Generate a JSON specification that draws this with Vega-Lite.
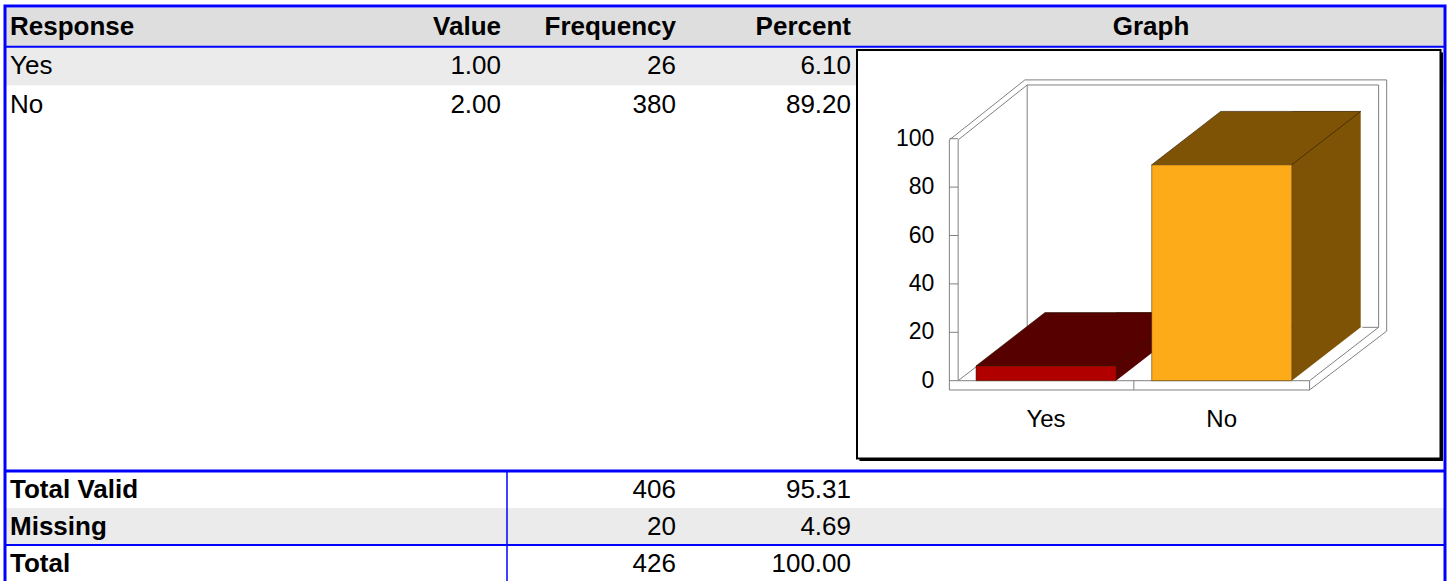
{
"$schema":"https://vega.github.io/schema/vega-lite/v6.json",
"width":1440,"height":580,"autosize":"none",
"padding":{"left":5,"top":5,"right":3,"bottom":0},
"background":"white",
"config":{"view":{"stroke":null},"font":"Liberation Sans","text":{"font":"Liberation Sans","color":"black"}},
"datasets":{
 "columns":[{"Column":"Response"},{"Column":"Value"},{"Column":"Frequency"},{"Column":"Percent"},{"Column":"Graph"}],
 "responses":[{"Response":"Yes","Value":1,"Frequency":26,"Percent":6.1},{"Response":"No","Value":2,"Frequency":380,"Percent":89.2}],
 "totals":[{"Response":"Total Valid","Frequency":406,"Percent":95.31},{"Response":"Missing","Frequency":20,"Percent":4.69},{"Response":"Total","Frequency":426,"Percent":100}],
 "ticks":[{"Tick":0},{"Tick":20},{"Tick":40},{"Tick":60},{"Tick":80},{"Tick":100}]
},
"layer":[
 {"layer":[
  {"layer":[
   {"data":{"values":[{}]},"mark":{"type":"rect","fill":"#dedede"},"encoding":{"y":{"datum":"header","scale":{"type":"band","domain":["header","Yes","No"],"range":[3,119],"paddingInner":0,"paddingOuter":0},"axis":null}}},
   {"data":{"values":[{}]},"mark":{"type":"rect","fill":"#ebebeb"},"encoding":{"y":{"datum":"Yes","scale":{"type":"band","domain":["header","Yes","No"],"range":[3,119],"paddingInner":0,"paddingOuter":0},"axis":null}}},
   {"data":{"values":[{}]},"mark":{"type":"rule","color":"#0000ff","strokeWidth":2},"encoding":{"y":{"datum":"Yes","bandPosition":0,"scale":{"type":"band","domain":["header","Yes","No"],"range":[3,119],"paddingInner":0,"paddingOuter":0},"axis":null}}},
   {"data":{"name":"columns"},"transform":[{"filter":"datum.Column !== 'Response' && datum.Column !== 'Graph'"}],
    "mark":{"type":"text","align":"right","baseline":"middle","dx":-6,"fontSize":26,"fontWeight":"bold"},
    "encoding":{"x":{"field":"Column","type":"nominal","bandPosition":1,"scale":{"type":"band","domain":["Response","Value","Frequency","Percent"],"range":[152,852],"paddingInner":0,"paddingOuter":0},"axis":null},
     "y":{"datum":"header","scale":{"type":"band","domain":["header","Yes","No"],"range":[3,119],"paddingInner":0,"paddingOuter":0},"axis":null},
     "text":{"field":"Column","type":"nominal"}}},
   {"data":{"name":"columns"},"transform":[{"filter":"datum.Column === 'Response'"}],
    "mark":{"type":"text","align":"left","baseline":"middle","dx":-147,"fontSize":26,"fontWeight":"bold"},
    "encoding":{"x":{"field":"Column","type":"nominal","bandPosition":0,"scale":{"type":"band","domain":["Response","Value","Frequency","Percent"],"range":[152,852],"paddingInner":0,"paddingOuter":0},"axis":null},
     "y":{"datum":"header","scale":{"type":"band","domain":["header","Yes","No"],"range":[3,119],"paddingInner":0,"paddingOuter":0},"axis":null},
     "text":{"field":"Column","type":"nominal"}}},
   {"data":{"name":"columns"},"transform":[{"filter":"datum.Column === 'Graph'"}],
    "mark":{"type":"text","align":"center","baseline":"middle","dx":294,"fontSize":26,"fontWeight":"bold"},
    "encoding":{"x":{"datum":"Percent","bandPosition":1,"scale":{"type":"band","domain":["Response","Value","Frequency","Percent"],"range":[152,852],"paddingInner":0,"paddingOuter":0},"axis":null},
     "y":{"datum":"header","scale":{"type":"band","domain":["header","Yes","No"],"range":[3,119],"paddingInner":0,"paddingOuter":0},"axis":null},
     "text":{"field":"Column","type":"nominal"}}},
   {"data":{"name":"responses"},
    "mark":{"type":"text","align":"left","baseline":"middle","dx":-147,"fontSize":26},
    "encoding":{"x":{"datum":"Response","bandPosition":0,"scale":{"type":"band","domain":["Response","Value","Frequency","Percent"],"range":[152,852],"paddingInner":0,"paddingOuter":0},"axis":null},
     "y":{"field":"Response","type":"nominal","scale":{"type":"band","domain":["header","Yes","No"],"range":[3,119],"paddingInner":0,"paddingOuter":0},"axis":null},
     "text":{"field":"Response","type":"nominal"}}},
   {"data":{"name":"responses"},
    "mark":{"type":"text","align":"right","baseline":"middle","dx":-6,"fontSize":26},
    "encoding":{"x":{"datum":"Value","bandPosition":1,"scale":{"type":"band","domain":["Response","Value","Frequency","Percent"],"range":[152,852],"paddingInner":0,"paddingOuter":0},"axis":null},
     "y":{"field":"Response","type":"nominal","scale":{"type":"band","domain":["header","Yes","No"],"range":[3,119],"paddingInner":0,"paddingOuter":0},"axis":null},
     "text":{"field":"Value","type":"quantitative","format":".2f"}}},
   {"data":{"name":"responses"},
    "mark":{"type":"text","align":"right","baseline":"middle","dx":-6,"fontSize":26},
    "encoding":{"x":{"datum":"Frequency","bandPosition":1,"scale":{"type":"band","domain":["Response","Value","Frequency","Percent"],"range":[152,852],"paddingInner":0,"paddingOuter":0},"axis":null},
     "y":{"field":"Response","type":"nominal","scale":{"type":"band","domain":["header","Yes","No"],"range":[3,119],"paddingInner":0,"paddingOuter":0},"axis":null},
     "text":{"field":"Frequency","type":"quantitative","format":"d"}}},
   {"data":{"name":"responses"},
    "mark":{"type":"text","align":"right","baseline":"middle","dx":-6,"fontSize":26},
    "encoding":{"x":{"datum":"Percent","bandPosition":1,"scale":{"type":"band","domain":["Response","Value","Frequency","Percent"],"range":[152,852],"paddingInner":0,"paddingOuter":0},"axis":null},
     "y":{"field":"Response","type":"nominal","scale":{"type":"band","domain":["header","Yes","No"],"range":[3,119],"paddingInner":0,"paddingOuter":0},"axis":null},
     "text":{"field":"Percent","type":"quantitative","format":".2f"}}}
  ]},
  {"layer":[
   {"data":{"values":[{}]},"mark":{"type":"rect","fill":"#ebebeb"},"encoding":{"y":{"datum":"Missing","scale":{"type":"band","domain":["Total Valid","Missing","Total"],"range":[466,577],"paddingInner":0,"paddingOuter":0},"axis":null}}},
   {"data":{"values":[{}]},"mark":{"type":"rule","color":"#0000ff","strokeWidth":3},"encoding":{"y":{"datum":"Total Valid","bandPosition":0,"scale":{"type":"band","domain":["Total Valid","Missing","Total"],"range":[466,577],"paddingInner":0,"paddingOuter":0},"axis":null}}},
   {"data":{"values":[{}]},"mark":{"type":"rule","color":"#0000ff","strokeWidth":2},"encoding":{"y":{"datum":"Total","bandPosition":0,"scale":{"type":"band","domain":["Total Valid","Missing","Total"],"range":[466,577],"paddingInner":0,"paddingOuter":0},"axis":null}}},
   {"data":{"values":[{}]},"mark":{"type":"rule","color":"#0000ff","strokeWidth":1.5},
    "encoding":{"x":{"datum":"Value","bandPosition":1,"scale":{"type":"band","domain":["Response","Value","Frequency","Percent"],"range":[152,852],"paddingInner":0,"paddingOuter":0},"axis":null},
     "y":{"datum":"Total Valid","bandPosition":0,"scale":{"type":"band","domain":["Total Valid","Missing","Total"],"range":[466,577],"paddingInner":0,"paddingOuter":0},"axis":null},
     "y2":{"value":"height"}}},
   {"data":{"name":"totals"},
    "mark":{"type":"text","align":"left","baseline":"middle","dx":-147,"fontSize":26,"fontWeight":"bold"},
    "encoding":{"x":{"datum":"Response","bandPosition":0,"scale":{"type":"band","domain":["Response","Value","Frequency","Percent"],"range":[152,852],"paddingInner":0,"paddingOuter":0},"axis":null},
     "y":{"field":"Response","type":"nominal","scale":{"type":"band","domain":["Total Valid","Missing","Total"],"range":[466,577],"paddingInner":0,"paddingOuter":0},"axis":null},
     "text":{"field":"Response","type":"nominal"}}},
   {"data":{"name":"totals"},
    "mark":{"type":"text","align":"right","baseline":"middle","dx":-6,"fontSize":26},
    "encoding":{"x":{"datum":"Frequency","bandPosition":1,"scale":{"type":"band","domain":["Response","Value","Frequency","Percent"],"range":[152,852],"paddingInner":0,"paddingOuter":0},"axis":null},
     "y":{"field":"Response","type":"nominal","scale":{"type":"band","domain":["Total Valid","Missing","Total"],"range":[466,577],"paddingInner":0,"paddingOuter":0},"axis":null},
     "text":{"field":"Frequency","type":"quantitative","format":"d"}}},
   {"data":{"name":"totals"},
    "mark":{"type":"text","align":"right","baseline":"middle","dx":-6,"fontSize":26},
    "encoding":{"x":{"datum":"Percent","bandPosition":1,"scale":{"type":"band","domain":["Response","Value","Frequency","Percent"],"range":[152,852],"paddingInner":0,"paddingOuter":0},"axis":null},
     "y":{"field":"Response","type":"nominal","scale":{"type":"band","domain":["Total Valid","Missing","Total"],"range":[466,577],"paddingInner":0,"paddingOuter":0},"axis":null},
     "text":{"field":"Percent","type":"quantitative","format":".2f"}}}
  ]},
  {"data":{"values":[{}]},"mark":{"type":"rect","fillOpacity":0,"stroke":"#0000ff","strokeWidth":3,"yOffset":-2},
   "encoding":{"y":{"datum":"header","bandPosition":0,"scale":{"type":"band","domain":["header","Yes","No"],"range":[3,119],"paddingInner":0,"paddingOuter":0},"axis":null},"y2":{"value":"height"}}}
 ],"resolve":{"scale":{"y":"independent"}}},
 {"layer":[
  {"data":{"values":[{}]},"mark":{"type":"rect","fill":"black","xOffset":2.5,"x2Offset":2.5,"yOffset":2.5,"y2Offset":2.5},
   "encoding":{"x":{"datum":-0.0757,"type":"quantitative","scale":{"type":"linear","domain":[0,3],"range":[865.3,1392.4],"nice":false,"zero":false},"axis":null},"x2":{"datum":3.2453},
    "y":{"datum":136.65,"type":"quantitative","scale":{"type":"linear","domain":[0,100],"range":[375.7,133.7],"nice":false,"zero":false},"axis":null},"y2":{"datum":-32.15}}},
  {"data":{"values":[{}]},"mark":{"type":"rect","fill":"white","stroke":"black","strokeWidth":2},
   "encoding":{"x":{"datum":-0.0757,"type":"quantitative","scale":{"type":"linear","domain":[0,3],"range":[865.3,1392.4],"nice":false,"zero":false},"axis":null},"x2":{"datum":3.2453},
    "y":{"datum":136.65,"type":"quantitative","scale":{"type":"linear","domain":[0,100],"range":[375.7,133.7],"nice":false,"zero":false},"axis":null},"y2":{"datum":-32.15}}},
  {"data":{"name":"ticks"},"mark":{"type":"text","align":"right","baseline":"middle","dx":-15,"fontSize":23},
   "encoding":{"x":{"datum":0.45,"type":"quantitative","scale":{"type":"linear","domain":[0,3],"range":[865.3,1392.4],"nice":false,"zero":false},"axis":null},
    "y":{"field":"Tick","type":"quantitative","scale":{"type":"linear","domain":[0,100],"range":[375.7,133.7],"nice":false,"zero":false},"axis":null},
    "text":{"field":"Tick","type":"quantitative","format":"d"}}},
  {"data":{"name":"ticks"},"mark":{"type":"rule","color":"#808080","strokeWidth":1},
   "encoding":{"x":{"datum":0.45,"type":"quantitative","scale":{"type":"linear","domain":[0,3],"range":[865.3,1392.4],"nice":false,"zero":false},"axis":null},"x2":{"datum":0.5},
    "y":{"field":"Tick","type":"quantitative","scale":{"type":"linear","domain":[0,100],"range":[375.7,133.7],"nice":false,"zero":false},"axis":null}}},
  {"data":{"values":[{}]},"mark":{"type":"rule","color":"#808080","strokeWidth":1},"encoding":{"x":{"datum":0.45,"type":"quantitative","scale":{"type":"linear","domain":[0,3],"range":[865.3,1392.4],"nice":false,"zero":false},"axis":null},"y":{"datum":-3.84,"type":"quantitative","scale":{"type":"linear","domain":[0,100],"range":[375.7,133.7],"nice":false,"zero":false},"axis":null},"y2":{"datum":99.5}}},
  {"data":{"values":[{}]},"mark":{"type":"rule","color":"#808080","strokeWidth":1},"encoding":{"x":{"datum":0.5,"type":"quantitative","scale":{"type":"linear","domain":[0,3],"range":[865.3,1392.4],"nice":false,"zero":false},"axis":null},"y":{"datum":0,"type":"quantitative","scale":{"type":"linear","domain":[0,100],"range":[375.7,133.7],"nice":false,"zero":false},"axis":null},"y2":{"datum":99.5}}},
  {"data":{"values":[{}]},"mark":{"type":"rule","color":"#808080","strokeWidth":1},"encoding":{"x":{"datum":0.45,"type":"quantitative","scale":{"type":"linear","domain":[0,3],"range":[865.3,1392.4],"nice":false,"zero":false},"axis":null},"x2":{"datum":0.88},"y":{"datum":99.5,"type":"quantitative","scale":{"type":"linear","domain":[0,100],"range":[375.7,133.7],"nice":false,"zero":false},"axis":null},"y2":{"datum":124.3}}},
  {"data":{"values":[{}]},"mark":{"type":"rule","color":"#808080","strokeWidth":1},"encoding":{"x":{"datum":0.5,"type":"quantitative","scale":{"type":"linear","domain":[0,3],"range":[865.3,1392.4],"nice":false,"zero":false},"axis":null},"x2":{"datum":0.893},"y":{"datum":99.5,"type":"quantitative","scale":{"type":"linear","domain":[0,100],"range":[375.7,133.7],"nice":false,"zero":false},"axis":null},"y2":{"datum":122.2}}},
  {"data":{"values":[{}]},"mark":{"type":"rule","color":"#808080","strokeWidth":1},"encoding":{"x":{"datum":0.88,"type":"quantitative","scale":{"type":"linear","domain":[0,3],"range":[865.3,1392.4],"nice":false,"zero":false},"axis":null},"x2":{"datum":2.939},"y":{"datum":124.3,"type":"quantitative","scale":{"type":"linear","domain":[0,100],"range":[375.7,133.7],"nice":false,"zero":false},"axis":null}}},
  {"data":{"values":[{}]},"mark":{"type":"rule","color":"#808080","strokeWidth":1},"encoding":{"x":{"datum":0.893,"type":"quantitative","scale":{"type":"linear","domain":[0,3],"range":[865.3,1392.4],"nice":false,"zero":false},"axis":null},"x2":{"datum":2.893},"y":{"datum":122.2,"type":"quantitative","scale":{"type":"linear","domain":[0,100],"range":[375.7,133.7],"nice":false,"zero":false},"axis":null}}},
  {"data":{"values":[{}]},"mark":{"type":"rule","color":"#808080","strokeWidth":1},"encoding":{"x":{"datum":0.893,"type":"quantitative","scale":{"type":"linear","domain":[0,3],"range":[865.3,1392.4],"nice":false,"zero":false},"axis":null},"y":{"datum":22.05,"type":"quantitative","scale":{"type":"linear","domain":[0,100],"range":[375.7,133.7],"nice":false,"zero":false},"axis":null},"y2":{"datum":122.2}}},
  {"data":{"values":[{}]},"mark":{"type":"rule","color":"#808080","strokeWidth":1},"encoding":{"x":{"datum":2.893,"type":"quantitative","scale":{"type":"linear","domain":[0,3],"range":[865.3,1392.4],"nice":false,"zero":false},"axis":null},"y":{"datum":22.05,"type":"quantitative","scale":{"type":"linear","domain":[0,100],"range":[375.7,133.7],"nice":false,"zero":false},"axis":null},"y2":{"datum":122.2}}},
  {"data":{"values":[{}]},"mark":{"type":"rule","color":"#808080","strokeWidth":1},"encoding":{"x":{"datum":2.939,"type":"quantitative","scale":{"type":"linear","domain":[0,3],"range":[865.3,1392.4],"nice":false,"zero":false},"axis":null},"y":{"datum":20.5,"type":"quantitative","scale":{"type":"linear","domain":[0,100],"range":[375.7,133.7],"nice":false,"zero":false},"axis":null},"y2":{"datum":124.3}}},
  {"data":{"values":[{}]},"mark":{"type":"rule","color":"#808080","strokeWidth":1},"encoding":{"x":{"datum":0.893,"type":"quantitative","scale":{"type":"linear","domain":[0,3],"range":[865.3,1392.4],"nice":false,"zero":false},"axis":null},"x2":{"datum":2.893},"y":{"datum":22.05,"type":"quantitative","scale":{"type":"linear","domain":[0,100],"range":[375.7,133.7],"nice":false,"zero":false},"axis":null}}},
  {"data":{"values":[{}]},"mark":{"type":"rule","color":"#808080","strokeWidth":1},"encoding":{"x":{"datum":0.5,"type":"quantitative","scale":{"type":"linear","domain":[0,3],"range":[865.3,1392.4],"nice":false,"zero":false},"axis":null},"x2":{"datum":0.893},"y":{"datum":0,"type":"quantitative","scale":{"type":"linear","domain":[0,100],"range":[375.7,133.7],"nice":false,"zero":false},"axis":null},"y2":{"datum":22.05}}},
  {"data":{"name":"responses"},"mark":{"type":"rect","xOffset":70,"x2Offset":139,"yOffset":-53.4},
   "encoding":{"x":{"field":"Value","type":"quantitative","scale":{"type":"linear","domain":[0,3],"range":[865.3,1392.4],"nice":false,"zero":false},"axis":null},"x2":{"field":"Value"},
    "y":{"field":"Percent","type":"quantitative","scale":{"type":"linear","domain":[0,100],"range":[375.7,133.7],"nice":false,"zero":false},"axis":null},"y2":{"datum":0},
    "fill":{"field":"Response","type":"nominal","scale":{"domain":["Yes","No"],"range":["#570000","#7e5305"]},"legend":null}}},
  {"data":{"name":"responses"},"mark":{"type":"point","shape":"M-70,0L70,0L139,-53.4L-1,-53.4Z","size":4,"filled":true,"opacity":1,"stroke":"#2a1800","strokeWidth":0.6},
   "encoding":{"x":{"field":"Value","type":"quantitative","scale":{"type":"linear","domain":[0,3],"range":[865.3,1392.4],"nice":false,"zero":false},"axis":null},
    "y":{"field":"Percent","type":"quantitative","scale":{"type":"linear","domain":[0,100],"range":[375.7,133.7],"nice":false,"zero":false},"axis":null},
    "fill":{"field":"Response","type":"nominal","scale":{"domain":["Yes","No"],"range":["#570000","#7e5305"]},"legend":null}}},
  {"data":{"name":"responses"},"mark":{"type":"point","shape":"M70,0L139,-53.4L141,-53.4L141,2L70,2Z","size":4,"filled":true,"opacity":1,"fill":"white","strokeWidth":0},
   "encoding":{"x":{"field":"Value","type":"quantitative","scale":{"type":"linear","domain":[0,3],"range":[865.3,1392.4],"nice":false,"zero":false},"axis":null},
    "y":{"datum":0,"type":"quantitative","scale":{"type":"linear","domain":[0,100],"range":[375.7,133.7],"nice":false,"zero":false},"axis":null}}},
  {"data":{"values":[{}]},"mark":{"type":"rule","color":"#808080","strokeWidth":1},"encoding":{"x":{"datum":0.5,"type":"quantitative","scale":{"type":"linear","domain":[0,3],"range":[865.3,1392.4],"nice":false,"zero":false},"axis":null},"x2":{"datum":2.5},"y":{"datum":0,"type":"quantitative","scale":{"type":"linear","domain":[0,100],"range":[375.7,133.7],"nice":false,"zero":false},"axis":null}}},
  {"data":{"values":[{}]},"mark":{"type":"rule","color":"#808080","strokeWidth":1},"encoding":{"x":{"datum":0.45,"type":"quantitative","scale":{"type":"linear","domain":[0,3],"range":[865.3,1392.4],"nice":false,"zero":false},"axis":null},"x2":{"datum":2.5},"y":{"datum":-3.84,"type":"quantitative","scale":{"type":"linear","domain":[0,100],"range":[375.7,133.7],"nice":false,"zero":false},"axis":null}}},
  {"data":{"values":[{}]},"mark":{"type":"rule","color":"#808080","strokeWidth":1},"encoding":{"x":{"datum":2.5,"type":"quantitative","scale":{"type":"linear","domain":[0,3],"range":[865.3,1392.4],"nice":false,"zero":false},"axis":null},"y":{"datum":-3.84,"type":"quantitative","scale":{"type":"linear","domain":[0,100],"range":[375.7,133.7],"nice":false,"zero":false},"axis":null},"y2":{"datum":0}}},
  {"data":{"values":[{}]},"mark":{"type":"rule","color":"#808080","strokeWidth":1},"encoding":{"x":{"datum":1.5,"type":"quantitative","scale":{"type":"linear","domain":[0,3],"range":[865.3,1392.4],"nice":false,"zero":false},"axis":null},"y":{"datum":-3.84,"type":"quantitative","scale":{"type":"linear","domain":[0,100],"range":[375.7,133.7],"nice":false,"zero":false},"axis":null},"y2":{"datum":0}}},
  {"data":{"values":[{}]},"mark":{"type":"rule","color":"#808080","strokeWidth":1},"encoding":{"x":{"datum":2.5,"type":"quantitative","scale":{"type":"linear","domain":[0,3],"range":[865.3,1392.4],"nice":false,"zero":false},"axis":null},"x2":{"datum":2.893},"y":{"datum":0,"type":"quantitative","scale":{"type":"linear","domain":[0,100],"range":[375.7,133.7],"nice":false,"zero":false},"axis":null},"y2":{"datum":22.05}}},
  {"data":{"values":[{}]},"mark":{"type":"rule","color":"#808080","strokeWidth":1},"encoding":{"x":{"datum":2.5,"type":"quantitative","scale":{"type":"linear","domain":[0,3],"range":[865.3,1392.4],"nice":false,"zero":false},"axis":null},"x2":{"datum":2.939},"y":{"datum":-3.84,"type":"quantitative","scale":{"type":"linear","domain":[0,100],"range":[375.7,133.7],"nice":false,"zero":false},"axis":null},"y2":{"datum":20.5}}},
  {"data":{"name":"responses"},"mark":{"type":"rect","xOffset":-70,"x2Offset":70,"stroke":"#3a2600","strokeWidth":0.5},
   "encoding":{"x":{"field":"Value","type":"quantitative","scale":{"type":"linear","domain":[0,3],"range":[865.3,1392.4],"nice":false,"zero":false},"axis":null},"x2":{"field":"Value"},
    "y":{"field":"Percent","type":"quantitative","scale":{"type":"linear","domain":[0,100],"range":[375.7,133.7],"nice":false,"zero":false},"axis":null},
    "y2":{"datum":0},
    "fill":{"field":"Response","type":"nominal","scale":{"domain":["Yes","No"],"range":["#b00000","#fdab18"]},"legend":null}}},
  {"data":{"name":"responses"},"mark":{"type":"text","align":"center","baseline":"middle","dy":39.5,"fontSize":24},
   "encoding":{"x":{"field":"Value","type":"quantitative","scale":{"type":"linear","domain":[0,3],"range":[865.3,1392.4],"nice":false,"zero":false},"axis":null},
    "y":{"datum":0,"type":"quantitative","scale":{"type":"linear","domain":[0,100],"range":[375.7,133.7],"nice":false,"zero":false},"axis":null},
    "text":{"field":"Response","type":"nominal"}}}
 ],"resolve":{"scale":{"fill":"independent"}}}
],
"resolve":{"scale":{"x":"independent","y":"independent"}}
}
